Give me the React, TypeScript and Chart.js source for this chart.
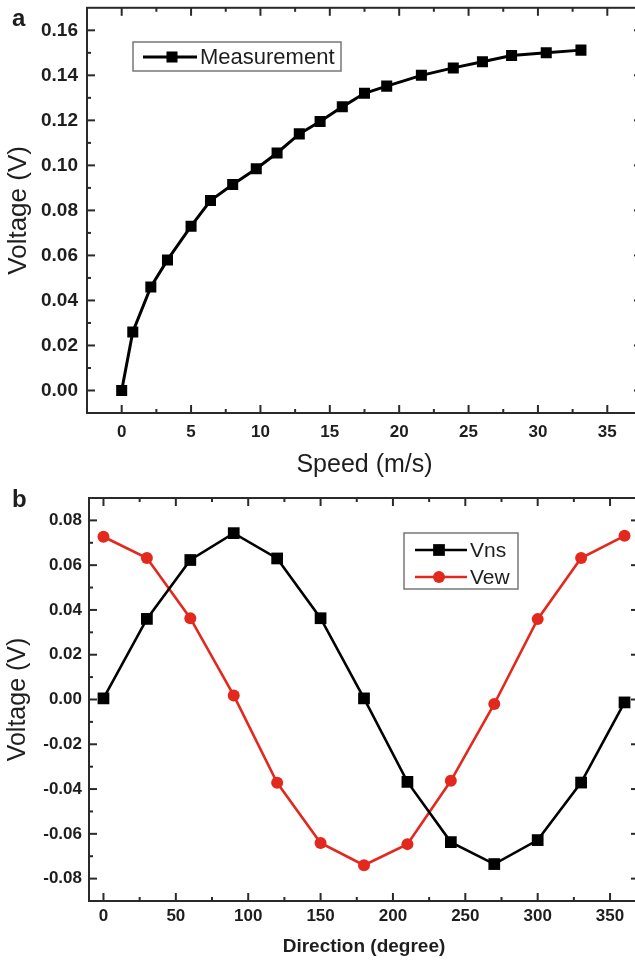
import React, { useEffect, useRef } from "react";
import Chart from "chart.js/auto";

// ---------- data (a) ----------
const speed = [0, 0.8, 2.1, 3.3, 5.0, 6.4, 8.0, 9.7, 11.2, 12.8, 14.3, 15.9, 17.5, 19.1, 21.6, 23.9, 26.0, 28.1, 30.6, 33.1];
const measurement = [0, 0.026, 0.046, 0.058, 0.073, 0.0844, 0.0915, 0.0985, 0.1055, 0.114, 0.1195, 0.126, 0.132, 0.1352, 0.140, 0.1433, 0.146, 0.1488, 0.150, 0.1512];
const speedTicks = [0, 5, 10, 15, 20, 25, 30, 35];
const voltTicksA = [0, 0.02, 0.04, 0.06, 0.08, 0.1, 0.12, 0.14, 0.16];

// ---------- data (b) ----------
const direction = [0, 30, 60, 90, 120, 150, 180, 210, 240, 270, 300, 330, 360];
const vns = [0.0005, 0.036, 0.0623, 0.0743, 0.063, 0.0363, 0.0005, -0.0368, -0.0637, -0.0735, -0.0628, -0.0371, -0.0013];
const vew = [0.0727, 0.0632, 0.0363, 0.0018, -0.0372, -0.0641, -0.0740, -0.0646, -0.0363, -0.002, 0.0359, 0.0632, 0.0731];
const dirTicks = [0, 50, 100, 150, 200, 250, 300, 350];
const voltTicksB = [-0.08, -0.06, -0.04, -0.02, 0, 0.02, 0.04, 0.06, 0.08];

const FONT = "'Liberation Sans', Arial, sans-serif";
const TEXT = "#1e1e1e";
const RED = "#e3281d";

function minorOf(major: number[], min: number, max: number) {
  const step = major[1] - major[0];
  const out: number[] = [];
  for (let i = -1; i < major.length; i++) {
    const v = (i < 0 ? major[0] - step : major[i]) + step / 2;
    if (v > min + 1e-9 && v < max - 1e-9) out.push(v);
  }
  return out;
}

const frameTicks = {
  id: "frameTicks",
  afterDatasetsDraw(chart: any, _a: any, opts: any) {
    const { ctx, chartArea: a, scales } = chart;
    const x = scales.x, y = scales.y;
    ctx.save();
    ctx.strokeStyle = "#2a2a2a";
    ctx.lineWidth = 2;
    ctx.strokeRect(a.left, a.top, a.right - a.left, a.bottom - a.top);
    const line = (x1: number, y1: number, x2: number, y2: number) => {
      ctx.beginPath(); ctx.moveTo(x1, y1); ctx.lineTo(x2, y2); ctx.stroke();
    };
    const xMajor: number[] = opts.xMajor, yMajor: number[] = opts.yMajor;
    const xMinor = minorOf(xMajor, x.min, x.max);
    const yMinor = minorOf(yMajor, y.min, y.max);
    const M = 8, m = 4;
    xMajor.forEach((v) => { const p = x.getPixelForValue(v); line(p, a.bottom, p, a.bottom - M); line(p, a.top, p, a.top + M); });
    xMinor.forEach((v) => { const p = x.getPixelForValue(v); line(p, a.bottom, p, a.bottom - m); line(p, a.top, p, a.top + m); });
    yMajor.forEach((v) => { const p = y.getPixelForValue(v); line(a.left, p, a.left + M, p); line(a.right, p, a.right - M, p); });
    yMinor.forEach((v) => { const p = y.getPixelForValue(v); line(a.left, p, a.left + m, p); line(a.right, p, a.right - m, p); });
    ctx.restore();
  },
};

const boxLegend = {
  id: "boxLegend",
  afterDraw(chart: any, _a: any, opts: any) {
    const { ctx } = chart;
    const { x, y, w, h, rowY, lineX1, lineX2, markX, textX, fontSize } = opts;
    ctx.save();
    ctx.fillStyle = "#fff";
    ctx.fillRect(x, y, w, h);
    ctx.strokeStyle = "#777";
    ctx.lineWidth = 1.5;
    ctx.strokeRect(x, y, w, h);
    chart.data.datasets.forEach((ds: any, i: number) => {
      const ry = rowY[i];
      ctx.strokeStyle = ds.borderColor;
      ctx.lineWidth = ds.borderWidth;
      ctx.beginPath(); ctx.moveTo(lineX1, ry); ctx.lineTo(lineX2, ry); ctx.stroke();
      ctx.fillStyle = ds.pointBackgroundColor;
      if (ds.pointStyle === "rect") {
        const s = Math.SQRT1_2 * ds.pointRadius;
        ctx.fillRect(markX - s, ry - s, 2 * s, 2 * s);
      } else {
        ctx.beginPath(); ctx.arc(markX, ry, ds.pointRadius, 0, Math.PI * 2); ctx.fill();
      }
      ctx.fillStyle = TEXT;
      ctx.font = `${fontSize}px ${FONT}`;
      ctx.textBaseline = "middle";
      ctx.textAlign = "left";
      ctx.fillText(ds.label, textX, ry + 1);
    });
    ctx.restore();
  },
};

const fixX = (h: number) => (s: any) => { s.height = h; s.paddingLeft = 0; s.paddingRight = 0; };
const fixY = (w: number) => (s: any) => { s.width = w; s.paddingTop = 0; s.paddingBottom = 0; };

function ChartA() {
  const ref = useRef<HTMLCanvasElement>(null);
  useEffect(() => {
    const chart = new Chart(ref.current!, {
      type: "line",
      data: {
        datasets: [
          {
            label: "Measurement",
            data: speed.map((s, i) => ({ x: s, y: measurement[i] })),
            borderColor: "#000",
            backgroundColor: "#000",
            pointBackgroundColor: "#000",
            pointBorderColor: "#000",
            borderWidth: 3,
            pointStyle: "rect",
            pointRadius: 7.8,
            pointBorderWidth: 0,
            tension: 0,
          } as any,
        ],
      },
      options: {
        animation: false,
        responsive: false,
        events: [],
        layout: { padding: { top: 6, right: 8, left: 0, bottom: 0 } },
        plugins: {
          legend: { display: false },
          tooltip: { enabled: false },
          frameTicks: { xMajor: speedTicks, yMajor: voltTicksA },
          boxLegend: { x: 133, y: 42, w: 208, h: 29, rowY: [57], lineX1: 143, lineX2: 197, markX: 172, textX: 200, fontSize: 22 },
        } as any,
        scales: {
          x: {
            type: "linear",
            min: -2.5,
            max: 37.5,
            grid: { display: false, drawTicks: false },
            border: { display: false },
            afterBuildTicks: (s: any) => { s.ticks = speedTicks.map((v) => ({ value: v })); },
            afterFit: fixX(67),
            ticks: { color: TEXT, padding: 9, font: { family: FONT, size: 17, weight: "bold" }, callback: (v: any) => String(v) },
            title: { display: true, text: "Speed (m/s)", color: TEXT, font: { family: FONT, size: 25 }, padding: { top: 0, bottom: 0 } },
          },
          y: {
            type: "linear",
            min: -0.01,
            max: 0.17,
            grid: { display: false, drawTicks: false },
            border: { display: false },
            afterBuildTicks: (s: any) => { s.ticks = voltTicksA.map((v) => ({ value: v })); },
            afterFit: fixY(87),
            ticks: { color: TEXT, padding: 9, font: { family: FONT, size: 19, weight: "bold" }, callback: (v: any) => Number(v).toFixed(2) },
            title: { display: true, text: "Voltage (V)", color: TEXT, font: { family: FONT, size: 26 }, padding: { top: 3, bottom: 0 } },
          },
        },
      } as any,
      plugins: [frameTicks, boxLegend],
    });
    return () => chart.destroy();
  }, []);
  return <canvas ref={ref} width={650} height={480} style={{ position: "absolute", left: 0, top: 0, width: 650, height: 480 }} />;
}

function ChartB() {
  const ref = useRef<HTMLCanvasElement>(null);
  useEffect(() => {
    const chart = new Chart(ref.current!, {
      type: "line",
      data: {
        datasets: [
          {
            label: "Vns",
            data: direction.map((d, i) => ({ x: d, y: vns[i] })),
            borderColor: "#000",
            backgroundColor: "#000",
            pointBackgroundColor: "#000",
            pointBorderColor: "#000",
            borderWidth: 2.6,
            pointStyle: "rect",
            pointRadius: 8.3,
            pointBorderWidth: 0,
            tension: 0,
          },
          {
            label: "Vew",
            data: direction.map((d, i) => ({ x: d, y: vew[i] })),
            borderColor: RED,
            backgroundColor: RED,
            pointBackgroundColor: RED,
            pointBorderColor: RED,
            borderWidth: 2.6,
            pointStyle: "circle",
            pointRadius: 6,
            pointBorderWidth: 0,
            tension: 0,
          },
        ] as any,
      },
      options: {
        animation: false,
        responsive: false,
        events: [],
        layout: { padding: { top: 28, right: 11, left: 0, bottom: 0 } },
        plugins: {
          legend: { display: false },
          tooltip: { enabled: false },
          frameTicks: { xMajor: dirTicks, yMajor: voltTicksB },
          boxLegend: { x: 404, y: 63, w: 114, h: 56, rowY: [80, 107], lineX1: 415, lineX2: 467, markX: 439, textX: 470, fontSize: 21 },
        } as any,
        scales: {
          x: {
            type: "linear",
            min: -10,
            max: 370,
            grid: { display: false, drawTicks: false },
            border: { display: false },
            afterBuildTicks: (s: any) => { s.ticks = dirTicks.map((v) => ({ value: v })); },
            afterFit: fixX(60),
            ticks: { color: TEXT, padding: 5, font: { family: FONT, size: 17, weight: "bold" }, callback: (v: any) => String(v) },
            title: { display: true, text: "Direction (degree)", color: TEXT, font: { family: FONT, size: 19, weight: "bold" }, padding: { top: 0, bottom: 3 } },
          },
          y: {
            type: "linear",
            min: -0.09,
            max: 0.09,
            grid: { display: false, drawTicks: false },
            border: { display: false },
            afterBuildTicks: (s: any) => { s.ticks = voltTicksB.map((v) => ({ value: v })); },
            afterFit: fixY(89),
            ticks: { color: TEXT, padding: 7, font: { family: FONT, size: 17, weight: "bold" }, callback: (v: any) => Number(v).toFixed(2) },
            title: { display: true, text: "Voltage (V)", color: TEXT, font: { family: FONT, size: 25 }, padding: { top: 3, bottom: 0 } },
          },
        },
      } as any,
      plugins: [frameTicks, boxLegend],
    });
    return () => chart.destroy();
  }, []);
  return <canvas ref={ref} width={650} height={491} style={{ position: "absolute", left: 0, top: 470, width: 650, height: 491 }} />;
}

const panelLabel: React.CSSProperties = {
  position: "absolute",
  fontFamily: FONT,
  fontWeight: "bold",
  fontSize: 24,
  lineHeight: "24px",
  color: TEXT,
};

export default function App() {
  return (
    <div style={{ position: "fixed", left: 0, top: 0, width: 635, height: 961, overflow: "hidden", background: "#fff" }}>
      <ChartA />
      <ChartB />
      <div style={{ ...panelLabel, left: 12, top: 6 }}>a</div>
      <div style={{ ...panelLabel, left: 12, top: 487 }}>b</div>
    </div>
  );
}
